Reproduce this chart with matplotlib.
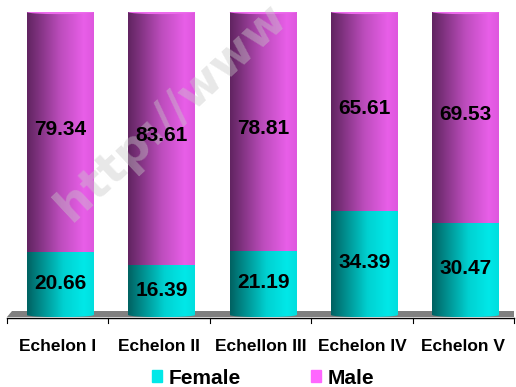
import numpy as np
import matplotlib
matplotlib.use("Agg")
import matplotlib.pyplot as plt
from matplotlib.patches import Polygon, Ellipse, Rectangle
from matplotlib.colors import LinearSegmentedColormap

categories = ["Echelon I", "Echelon II", "Echellon III", "Echelon IV", "Echelon V"]
female = [20.66, 16.39, 21.19, 34.39, 30.47]
male = [79.34, 83.61, 78.81, 65.61, 69.53]
series_names = ["Female", "Male"]

FONT = "Liberation Sans"
fig = plt.figure(figsize=(5.16, 3.87), dpi=100)
# axes: x from 7px to 514px, y from 318px (value -1) to 12px (value 100)
ax = fig.add_axes([7/516, (387-318)/387, 507/516, 306/387])
ax.set_xlim(-0.5, 4.5)
ax.set_ylim(-1, 100)
ax.axis("off")

n = len(categories)
x = np.arange(n) + 0.025
w = 0.66

mag_cmap = LinearSegmentedColormap.from_list("mag", [
    (0.0, (0.38, 0.14, 0.38)), (0.12, (0.46, 0.18, 0.46)), (0.5, (0.74, 0.30, 0.74)),
    (0.85, (0.91, 0.37, 0.91)), (1.0, (0.87, 0.34, 0.87))])
cya_cmap = LinearSegmentedColormap.from_list("cya", [
    (0.0, (0.0, 0.38, 0.38)), (0.12, (0.0, 0.48, 0.48)), (0.55, (0.0, 0.82, 0.82)),
    (0.85, (0.0, 0.91, 0.91)), (1.0, (0.0, 0.87, 0.87))])

# floor
floor = Polygon([[-0.5, -0.66], [4.5, -0.66], [4.5, 1.3], [-0.45, 1.3]], closed=True,
                facecolor="#808080", edgecolor="none", zorder=1)
ax.add_patch(floor)

grad = np.linspace(0, 1, 256).reshape(1, -1)
fbars = ax.bar(x, female, width=w, bottom=0, color="none", edgecolor="none", zorder=2)
mbars = ax.bar(x, male, width=w, bottom=female, color="none", edgecolor="none", zorder=2)
for bars, cmap in ((fbars, cya_cmap), (mbars, mag_cmap)):
    for p in bars:
        x0, y0 = p.get_x(), p.get_y()
        ww, hh = p.get_width(), p.get_height()
        im = ax.imshow(grad, cmap=cmap, aspect="auto", extent=[x0, x0 + ww, y0, y0 + hh],
                       zorder=3, interpolation="bilinear")
        im.set_clip_path(p)
# bottom ellipse of cylinders and top caps
for i, p in enumerate(fbars):
    x0 = p.get_x()
    e = Ellipse((x0 + w/2, 0), w, 1.4, facecolor="none", edgecolor="none", zorder=3)
    ax.add_patch(e)
    im = ax.imshow(grad, cmap=cya_cmap, aspect="auto", extent=[x0, x0 + w, -0.7, 0.7],
                   zorder=3, interpolation="bilinear")
    im.set_clip_path(e)
for i, p in enumerate(mbars):
    x0 = p.get_x()
    top = female[i] + male[i]
    ax.add_patch(Ellipse((x0 + w/2, top), w, 1.4, facecolor="#ec6aec", edgecolor="none", zorder=4))

ax.set_xlim(-0.5, 4.5)
ax.set_ylim(-1, 100)

# watermark
ax.text(0.13, 30.5, "http://www", rotation=43, rotation_mode="anchor", fontsize=34,
        fontweight="bold", family="DejaVu Sans", color="#c8c8c8", alpha=0.42, ha="left",
        va="baseline", zorder=5, clip_on=False)

# value labels
for i in range(n):
    ax.text(x[i], female[i] / 2, f"{female[i]:.2f}", ha="center", va="center",
            fontsize=15, fontweight="bold", family=FONT, color="black", zorder=6)
    ax.text(x[i], female[i] + male[i] / 2 + 1, f"{male[i]:.2f}", ha="center", va="center",
            fontsize=15, fontweight="bold", family=FONT, color="black", zorder=6)

# axis line and ticks
ax.plot([-0.5, 4.5], [-1, -1], color="black", lw=1, clip_on=False, zorder=6)
for b in np.arange(n + 1) - 0.5:
    ax.plot([b, b], [-1, -2.7], color="black", lw=0.8, clip_on=False, zorder=6)

# category labels
for i, c in enumerate(categories):
    ax.text(i, -10.4, c, ha="center", va="center", fontsize=12.5, fontweight="bold",
            family=FONT, color="black", clip_on=False)

# legend
handles = [Rectangle((0, 0), 1, 1, color="#00e8e8"), Rectangle((0, 0), 1, 1, color="#ff66ff")]
leg = fig.legend(handles, series_names, loc="center", bbox_to_anchor=(263/516, 9/387), ncol=2,
                 frameon=False, prop={"family": FONT, "weight": "bold", "size": 15},
                 handlelength=0.5, handleheight=0.5, handletextpad=0.3, columnspacing=3.35,
                 borderpad=0)

fig.savefig("out.png", dpi=100)
